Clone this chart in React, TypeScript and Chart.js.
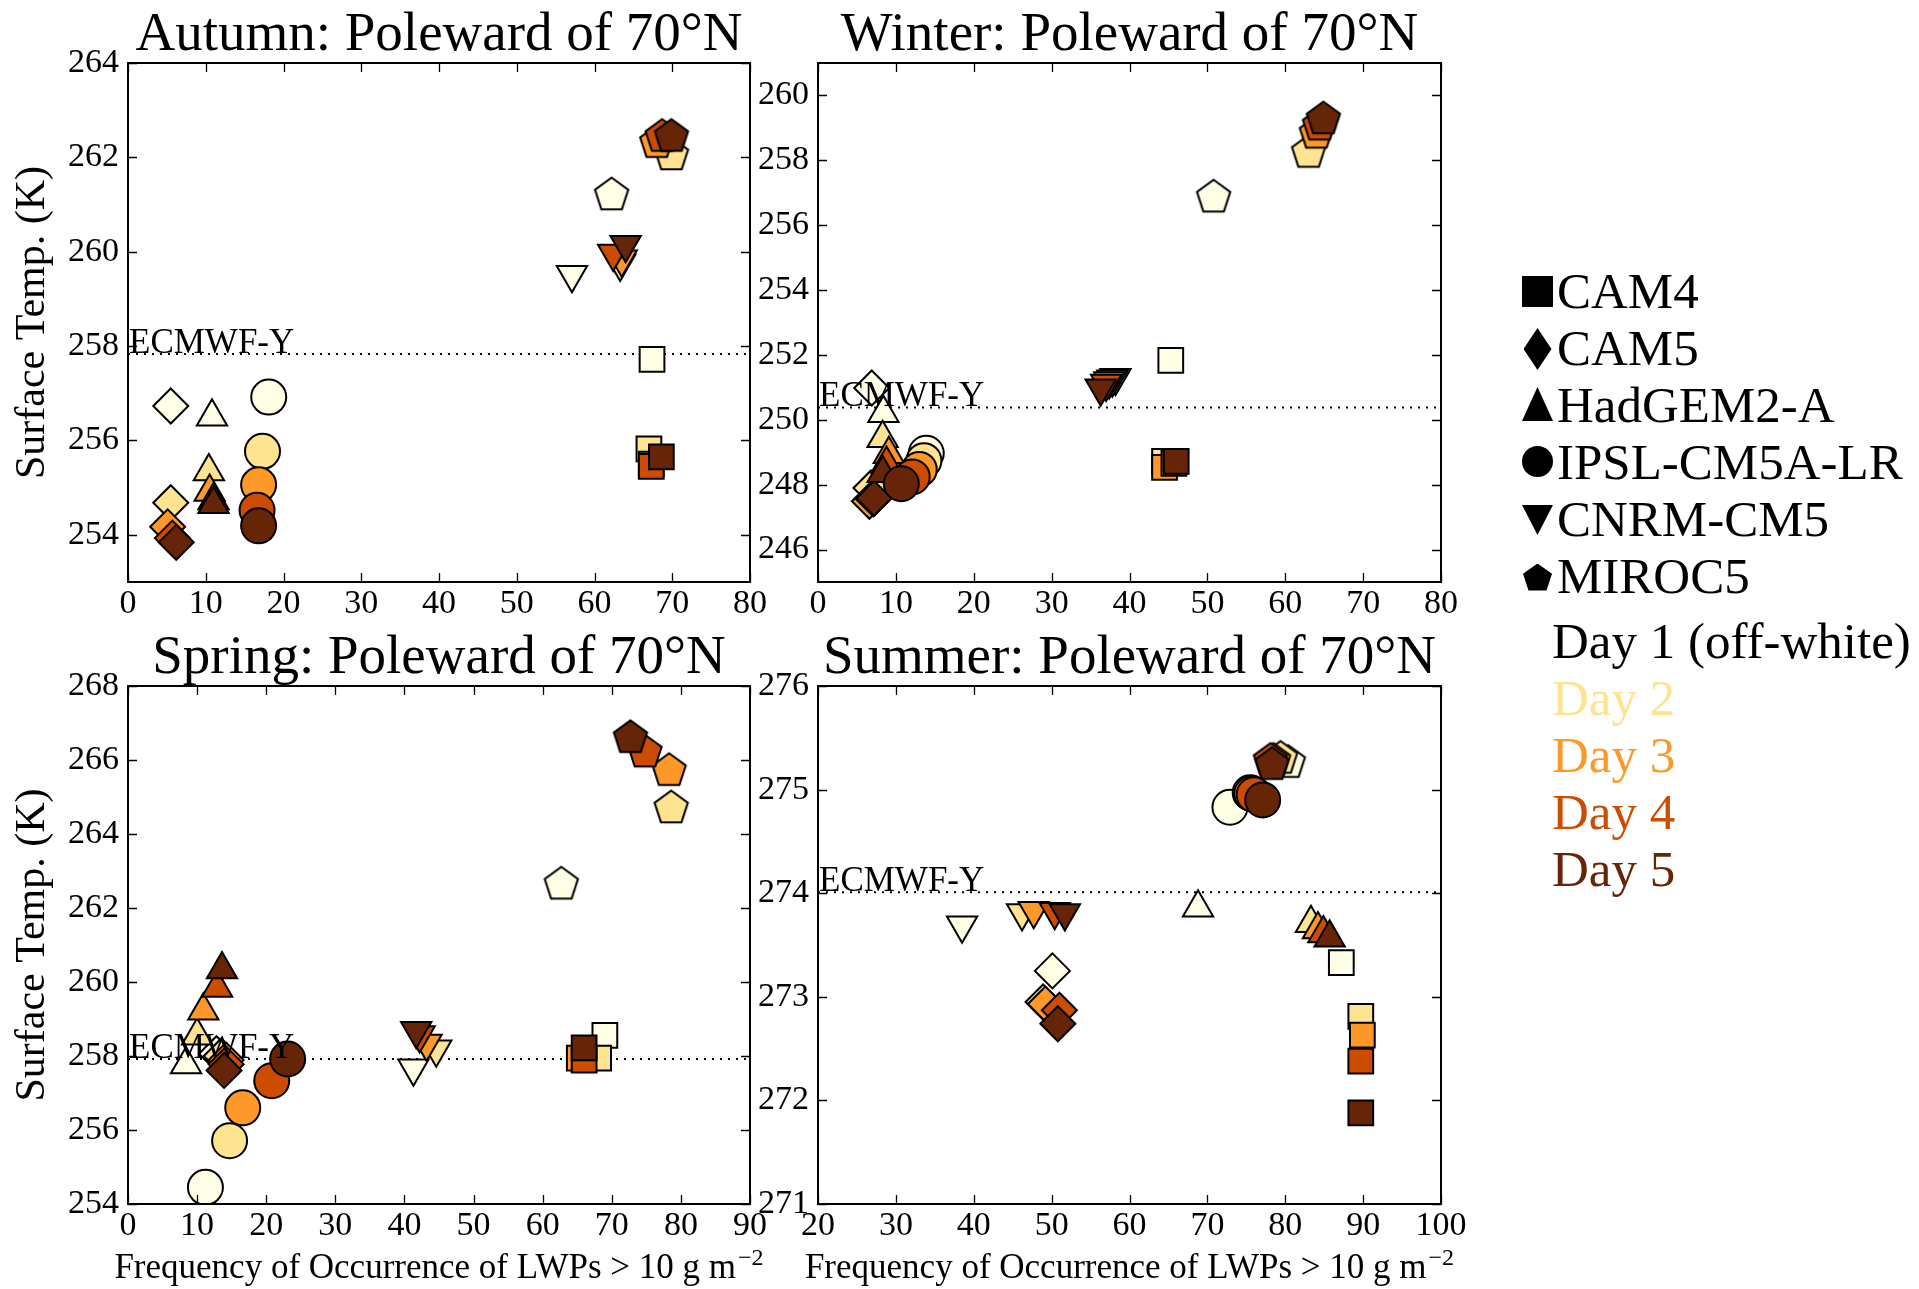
import React, { useEffect, useRef } from 'react';
import { Chart, registerables } from 'chart.js';

Chart.register(...registerables);

// ---------- data ----------
const MODELS = ['CAM4', 'CAM5', 'HadGEM2-A', 'IPSL-CM5A-LR', 'CNRM-CM5', 'MIROC5'];
const MODEL_SHAPES = ['rect', 'rectRot', 'triangle', 'circle', 'triangleDown', 'pentagon'];
const DAYS = ['Day 1 (off-white)', 'Day 2', 'Day 3', 'Day 4', 'Day 5'];
const DAY_COLORS = ['#ffffe5', '#fee391', '#fe9929', '#cc4c02', '#662506'];
const DAY_TEXT_COLORS = ['#000000', '#fee391', '#fe9929', '#cc4c02', '#662506'];

// rows: CAM4, CAM5, HadGEM2-A, IPSL-CM5A-LR, CNRM-CM5, MIROC5 ; columns: day 1..5
const autumnFreq = [
  [67.4, 67.0, 67.3, 67.3, 68.6],
  [5.5, 5.5, 5.1, 5.7, 6.2],
  [10.8, 10.4, 10.5, 11.0, 11.0],
  [18.1, 17.3, 16.8, 16.6, 16.8],
  [57.1, 63.3, 63.5, 62.4, 64.0],
  [62.2, 69.9, 68.0, 68.7, 69.9],
];
const autumnTemp = [
  [257.72, 255.82, 255.5, 255.45, 255.65],
  [256.73, 254.68, 254.17, 253.93, 253.84],
  [256.5, 255.34, 254.91, 254.73, 254.65],
  [256.92, 255.77, 255.06, 254.52, 254.19],
  [259.51, 259.75, 259.84, 259.96, 260.15],
  [261.2, 262.05, 262.31, 262.44, 262.44],
];
const winterFreq = [
  [45.3, 44.5, 44.5, 45.7, 46.0],
  [6.9, 6.8, 6.6, 7.1, 7.2],
  [8.4, 8.3, 9.1, 8.8, 8.3],
  [13.9, 13.6, 13.0, 12.1, 10.7],
  [38.2, 37.8, 37.4, 37.0, 36.3],
  [50.8, 63.0, 64.0, 64.4, 64.9],
];
const winterTemp = [
  [251.83, 248.72, 248.53, 248.66, 248.72],
  [250.98, 247.9, 247.49, 247.56, 247.58],
  [250.2, 249.43, 248.94, 248.64, 248.35],
  [248.97, 248.74, 248.47, 248.24, 248.03],
  [251.3, 251.25, 251.2, 251.12, 250.97],
  [256.86, 258.24, 258.83, 259.08, 259.27],
];
const springFreq = [
  [69.0, 68.1, 65.3, 66.0, 66.0],
  [12.8, 13.5, 14.2, 14.2, 13.9],
  [8.4, 10.0, 10.9, 12.9, 13.6],
  [11.2, 14.7, 16.6, 20.8, 23.1],
  [41.3, 44.6, 43.2, 42.2, 41.7],
  [62.7, 78.6, 78.3, 74.8, 72.7],
];
const springTemp = [
  [258.56, 257.94, 257.94, 257.89, 258.22],
  [258.06, 258.0, 257.89, 257.78, 257.61],
  [257.77, 258.55, 259.22, 259.84, 260.34],
  [254.45, 255.71, 256.6, 257.33, 257.92],
  [257.67, 258.18, 258.34, 258.57, 258.68],
  [262.64, 264.7, 265.71, 266.21, 266.6],
];
const summerFreq = [
  [87.2, 89.7, 89.9, 89.7, 89.7],
  [50.1, 48.9, 49.2, 51.0, 50.8],
  [68.8, 83.3, 84.2, 84.9, 85.7],
  [72.9, 75.5, 75.7, 76.0, 77.1],
  [38.5, 46.2, 47.7, 50.4, 51.7],
  [80.4, 79.4, 78.5, 78.1, 78.3],
];
const summerTemp = [
  [273.33, 272.81, 272.63, 272.38, 271.88],
  [273.25, 272.95, 272.93, 272.87, 272.74],
  [273.86, 273.71, 273.65, 273.61, 273.57],
  [274.83, 274.97, 274.96, 274.95, 274.9],
  [273.69, 273.81, 273.83, 273.82, 273.81],
  [275.26, 275.3, 275.28, 275.28, 275.24],
];

const autumnEcmwf = 257.83;
const winterEcmwf = 250.38;
const springEcmwf = 257.92;
const summerEcmwf = 274.01;

const autumnXRange = [0, 80];
const autumnYRange = [253, 264];
const winterXRange = [0, 80];
const winterYRange = [245, 261];
const springXRange = [0, 90];
const springYRange = [254, 268];
const summerXRange = [20, 100];
const summerYRange = [271, 276];

const autumnXTicks = [0, 10, 20, 30, 40, 50, 60, 70, 80];
const autumnYTicks = [254, 256, 258, 260, 262, 264];
const winterXTicks = [0, 10, 20, 30, 40, 50, 60, 70, 80];
const winterYTicks = [246, 248, 250, 252, 254, 256, 258, 260];
const springXTicks = [0, 10, 20, 30, 40, 50, 60, 70, 80, 90];
const springYTicks = [254, 256, 258, 260, 262, 264, 266, 268];
const summerXTicks = [20, 30, 40, 50, 60, 70, 80, 90, 100];
const summerYTicks = [271, 272, 273, 274, 275, 276];

const Y_TITLE = 'Surface Temp. (K)';
const X_TITLE = 'Frequency of Occurrence of LWPs > 10 g m';
const X_TITLE_SUP = '\u22122';
const REF_LABEL = 'ECMWF-Y';

// ---------- layout ----------
const SERIF = "'Liberation Serif', serif";
const YW = 128;
const PT = 63;
const PR = 30;

Chart.defaults.font.family = SERIF;
Chart.defaults.font.size = 34;
Chart.defaults.color = '#000';

const PANELS = [
  { title: 'Autumn: Poleward of 70\u00b0N', freq: autumnFreq, temp: autumnTemp, ref: autumnEcmwf, xr: autumnXRange, yr: autumnYRange, xt: autumnXTicks, yt: autumnYTicks, box: [128, 63, 750, 582], xh: 60, yTitle: true, xTitle: false },
  { title: 'Winter: Poleward of 70\u00b0N', freq: winterFreq, temp: winterTemp, ref: winterEcmwf, xr: winterXRange, yr: winterYRange, xt: winterXTicks, yt: winterYTicks, box: [818, 63, 1441, 582], xh: 60, yTitle: false, xTitle: false },
  { title: 'Spring: Poleward of 70\u00b0N', freq: springFreq, temp: springTemp, ref: springEcmwf, xr: springXRange, yr: springYRange, xt: springXTicks, yt: springYTicks, box: [128, 686, 750, 1204], xh: 84, yTitle: true, xTitle: true },
  { title: 'Summer: Poleward of 70\u00b0N', freq: summerFreq, temp: summerTemp, ref: summerEcmwf, xr: summerXRange, yr: summerYRange, xt: summerXTicks, yt: summerYTicks, box: [818, 686, 1441, 1204], xh: 84, yTitle: false, xTitle: true },
];

const pentagonCache: Record<string, HTMLCanvasElement> = {};
function makePentagon(color: string): HTMLCanvasElement {
  if (pentagonCache[color]) return pentagonCache[color];
  const c = document.createElement('canvas');
  c.width = 40;
  c.height = 40;
  const ctx = c.getContext('2d')!;
  const r = 17.5;
  ctx.beginPath();
  for (let i = 0; i < 5; i++) {
    const a = -Math.PI / 2 + (i * 2 * Math.PI) / 5;
    const x = 20 + r * Math.cos(a);
    const y = 20 + r * Math.sin(a);
    if (i === 0) ctx.moveTo(x, y);
    else ctx.lineTo(x, y);
  }
  ctx.closePath();
  ctx.fillStyle = color;
  ctx.fill();
  ctx.lineWidth = 2;
  ctx.strokeStyle = '#000';
  ctx.stroke();
  pentagonCache[color] = c;
  return c;
}

const decorPlugin = {
  id: 'decor',
  afterDatasetsDraw(chart: any, _args: any, opts: any) {
    const { ctx, chartArea: a, scales } = chart;
    const xs = scales.x;
    const ys = scales.y;
    ctx.save();
    ctx.fillStyle = '#000';
    // reference label
    ctx.font = `35px ${SERIF}`;
    ctx.textAlign = 'left';
    ctx.textBaseline = 'alphabetic';
    ctx.fillText(REF_LABEL, a.left + 1, ys.getPixelForValue(opts.ref) - 1);
    // frame
    ctx.strokeStyle = '#000';
    ctx.lineWidth = 2;
    ctx.strokeRect(a.left, a.top, a.right - a.left, a.bottom - a.top);
    // inward ticks on all sides
    ctx.lineWidth = 1.3;
    ctx.beginPath();
    for (const t of xs.ticks) {
      const px = Math.round(xs.getPixelForValue(t.value)) + 0.5;
      ctx.moveTo(px, a.bottom);
      ctx.lineTo(px, a.bottom - 9);
      ctx.moveTo(px, a.top);
      ctx.lineTo(px, a.top + 9);
    }
    for (const t of ys.ticks) {
      const py = Math.round(ys.getPixelForValue(t.value)) + 0.5;
      ctx.moveTo(a.left, py);
      ctx.lineTo(a.left + 9, py);
      ctx.moveTo(a.right, py);
      ctx.lineTo(a.right - 9, py);
    }
    ctx.stroke();
    // title
    ctx.font = `55px ${SERIF}`;
    ctx.textAlign = 'center';
    ctx.textBaseline = 'alphabetic';
    ctx.fillText(opts.title, (a.left + a.right) / 2, a.top - 13);
    // y title
    if (opts.yTitle) {
      ctx.save();
      ctx.translate(a.left - 95, (a.top + a.bottom) / 2);
      ctx.rotate(-Math.PI / 2);
      ctx.font = `42px ${SERIF}`;
      ctx.textAlign = 'center';
      ctx.textBaseline = 'middle';
      ctx.fillText(Y_TITLE, 0, 0);
      ctx.restore();
    }
    // x title
    if (opts.xTitle) {
      ctx.font = `35px ${SERIF}`;
      const wMain = ctx.measureText(X_TITLE).width;
      ctx.font = `24px ${SERIF}`;
      const wSup = ctx.measureText(X_TITLE_SUP).width;
      const total = wMain + 2 + wSup;
      const x0 = (a.left + a.right) / 2 - total / 2;
      const base = a.bottom + 74;
      ctx.textAlign = 'left';
      ctx.font = `35px ${SERIF}`;
      ctx.fillText(X_TITLE, x0, base);
      ctx.font = `24px ${SERIF}`;
      ctx.fillText(X_TITLE_SUP, x0 + wMain + 2, base - 13);
    }
    ctx.restore();
  },
};

function Panel({ p }: { p: any }) {
  const ref = useRef<HTMLCanvasElement>(null);
  const [l, t, r, b] = p.box;
  const left = l - YW;
  const top = t - PT;
  const width = YW + (r - l) + PR;
  const height = PT + (b - t) + p.xh;

  useEffect(() => {
    const datasets: any[] = [];
    let k = 0;
    MODELS.forEach((m, mi) => {
      DAY_COLORS.forEach((c, di) => {
        const shape = MODEL_SHAPES[mi];
        const style = shape === 'pentagon' ? makePentagon(c) : shape === 'triangleDown' ? 'triangle' : shape;
        datasets.push({
          type: 'scatter',
          label: `${m} ${DAYS[di]}`,
          data: [{ x: p.freq[mi][di], y: p.temp[mi][di] }],
          pointStyle: style,
          pointRotation: shape === 'triangleDown' ? 180 : 0,
          pointRadius: 17.5,
          pointHoverRadius: 17.5,
          backgroundColor: c,
          pointBackgroundColor: c,
          borderColor: '#000',
          pointBorderColor: '#000',
          pointBorderWidth: 2,
          pointHoverBorderWidth: 2,
          clip: 0,
          order: -k,
        });
        k++;
      });
    });
    datasets.push({
      type: 'line',
      label: REF_LABEL,
      data: [
        { x: p.xr[0], y: p.ref },
        { x: p.xr[1], y: p.ref },
      ],
      borderColor: '#000',
      borderWidth: 2,
      borderDash: [2, 6],
      pointRadius: 0,
      fill: false,
      clip: 0,
      order: 1000,
    });

    const tickFont = () => ({ family: SERIF, size: 34 });
    const chart = new Chart(ref.current!, {
      type: 'scatter',
      data: { datasets },
      plugins: [decorPlugin as any],
      options: {
        animation: false,
        responsive: false,
        maintainAspectRatio: false,
        events: [],
        font: { family: SERIF, size: 34 },
        layout: { padding: { left: 0, top: PT, right: PR, bottom: 0 } },
        plugins: {
          legend: { display: false },
          tooltip: { enabled: false },
          title: { display: false },
          decor: { title: p.title, ref: p.ref, yTitle: p.yTitle, xTitle: p.xTitle },
        } as any,
        scales: {
          x: {
            type: 'linear',
            min: p.xr[0],
            max: p.xr[1],
            grid: { display: false, drawTicks: false },
            border: { display: false },
            afterBuildTicks: (s: any) => {
              s.ticks = p.xt.map((v: number) => ({ value: v }));
            },
            afterFit: (s: any) => {
              s.height = p.xh;
              s.paddingLeft = 0;
              s.paddingRight = 0;
              s.paddingTop = 0;
              s.paddingBottom = 0;
            },
            ticks: {
              font: tickFont,
              color: '#000',
              padding: 2,
              autoSkip: false,
              maxRotation: 0,
              minRotation: 0,
              callback: (v: any) => String(v),
            },
          },
          y: {
            type: 'linear',
            min: p.yr[0],
            max: p.yr[1],
            grid: { display: false, drawTicks: false },
            border: { display: false },
            afterBuildTicks: (s: any) => {
              s.ticks = p.yt.map((v: number) => ({ value: v }));
            },
            afterFit: (s: any) => {
              s.width = YW;
              s.paddingLeft = 0;
              s.paddingRight = 0;
              s.paddingTop = 0;
              s.paddingBottom = 0;
            },
            ticks: {
              font: tickFont,
              color: '#000',
              padding: 9,
              autoSkip: false,
              callback: (v: any) => String(v),
            },
          },
        },
      } as any,
    });
    return () => chart.destroy();
  }, []);

  return (
    <canvas
      ref={ref}
      width={width}
      height={height}
      style={{ position: 'absolute', left, top, width, height }}
    />
  );
}

const MARKER_CX = 1537.5;
const legendMarkers = [
  { cy: 291, w: 31, h: 31, clip: 'none', radius: '0' },
  { cy: 349, w: 28, h: 42, clip: 'polygon(50% 0, 100% 50%, 50% 100%, 0 50%)', radius: '0' },
  { cy: 404, w: 31, h: 34, clip: 'polygon(50% 0, 100% 100%, 0 100%)', radius: '0' },
  { cy: 461.5, w: 31, h: 31, clip: 'none', radius: '50%' },
  { cy: 520, w: 31, h: 30, clip: 'polygon(0 0, 100% 0, 50% 100%)', radius: '0' },
  { cy: 577, w: 29, h: 27, clip: 'polygon(50% 0, 100% 38%, 81% 100%, 19% 100%, 0 38%)', radius: '0' },
];

function Legend() {
  const textStyle = (left: number, baseline: number, color: string): React.CSSProperties => ({
    position: 'absolute',
    left,
    top: baseline - 46.3,
    font: `51px ${SERIF}`,
    lineHeight: '58px',
    color,
    whiteSpace: 'nowrap',
  });
  return (
    <>
      {MODELS.map((m, i) => {
        const mk = legendMarkers[i];
        return (
          <React.Fragment key={m}>
            <div
              style={{
                position: 'absolute',
                left: MARKER_CX - mk.w / 2,
                top: mk.cy - mk.h / 2,
                width: mk.w,
                height: mk.h,
                background: '#000',
                clipPath: mk.clip === 'none' ? undefined : mk.clip,
                borderRadius: mk.radius,
              }}
            />
            <div style={textStyle(1557, 308 + i * 57, '#000')}>{m}</div>
          </React.Fragment>
        );
      })}
      {DAYS.map((d, i) => (
        <div key={d} style={textStyle(1552, 658 + i * 57, DAY_TEXT_COLORS[i])}>
          {d}
        </div>
      ))}
    </>
  );
}

export default function App() {
  return (
    <div
      style={{
        position: 'absolute',
        left: 0,
        top: 0,
        width: 1919,
        height: 1289,
        overflow: 'hidden',
        background: '#fff',
      }}
    >
      {PANELS.map((p, i) => (
        <Panel key={i} p={p} />
      ))}
      <Legend />
    </div>
  );
}
